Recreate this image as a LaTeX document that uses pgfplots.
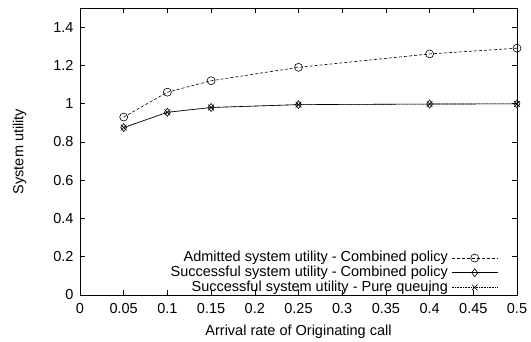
\documentclass[border=0pt]{standalone}
\usepackage{pgfplots}
\pgfplotsset{compat=1.18}
\usepackage{fontspec}
\setmainfont{Liberation Sans}
\begin{document}
\begin{tikzpicture}[x=1pt,y=1pt]
\begin{axis}[
  scale only axis,
  width=437pt, height=287pt,
  xmin=0, xmax=0.5, ymin=0, ymax=1.5,
  xtick={0,0.05,...,0.5},
  xticklabels={0,0.05,0.1,0.15,0.2,0.25,0.3,0.35,0.4,0.45,0.5},
  ytick={0,0.2,0.4,0.6,0.8,1,1.2,1.4},
  yticklabels={0,0.2,0.4,0.6,0.8,1,1.2,1.4},
  /pgf/number format/assume math mode=true,
  tick label style={font=\fontsize{14.5}{16}\selectfont},
  label style={font=\fontsize{14.5}{16}\selectfont},
  xticklabel style={yshift=-5pt},
  yticklabel style={xshift=-3pt},
  tick align=inside,
  major tick length=5pt,
  tick style={black, line width=0.5pt},
  axis line style={line width=0.6pt},
  xlabel={Arrival rate of Originating call},
  ylabel={System utility},
  xlabel style={yshift=-4pt},
  ylabel style={yshift=20pt},
  legend style={draw=none, fill=none, at={(0.957,0.0)}, anchor=south east,
    font=\fontsize{14.5}{15}\selectfont, row sep=0pt, inner sep=0pt,
    nodes={inner sep=0.5pt, text height=10.5pt, text depth=3.2pt},
    column sep=3pt},
  legend cell align=right,
  legend plot pos=right,
  legend image code/.code={
    \draw[mark repeat=2,mark phase=2,#1] plot coordinates {(0pt,0pt) (23pt,0pt) (46pt,0pt)};},
  every axis plot/.append style={line width=0.6pt, black},
  clip=false,
]
\addplot[densely dashed, mark=o, mark size=4pt, mark options={solid}] coordinates {
(0.05,0.93) (0.1,1.06) (0.15,1.12) (0.25,1.19) (0.4,1.26) (0.5,1.29)};
\addlegendentry{Admitted system utility - Combined policy}
\addplot[solid, mark=diamond, mark size=4pt] coordinates {
(0.05,0.875) (0.1,0.955) (0.15,0.98) (0.25,0.995) (0.4,0.998) (0.5,0.999)};
\addlegendentry{Successful system utility - Combined policy}
\addplot[densely dotted, mark=x, mark size=4pt, mark options={solid}] coordinates {
(0.05,0.875) (0.1,0.955) (0.15,0.98) (0.25,0.995) (0.4,0.998) (0.5,0.999)};
\addlegendentry{Successful system utility - Pure queuing}
\end{axis}
\path (current axis.south west) ++(-80pt,-46pt) coordinate (bl);
\path (current axis.north east) ++(14pt,8pt) coordinate (tr);
\path[use as bounding box] (bl) rectangle (tr);
\end{tikzpicture}
\end{document}
